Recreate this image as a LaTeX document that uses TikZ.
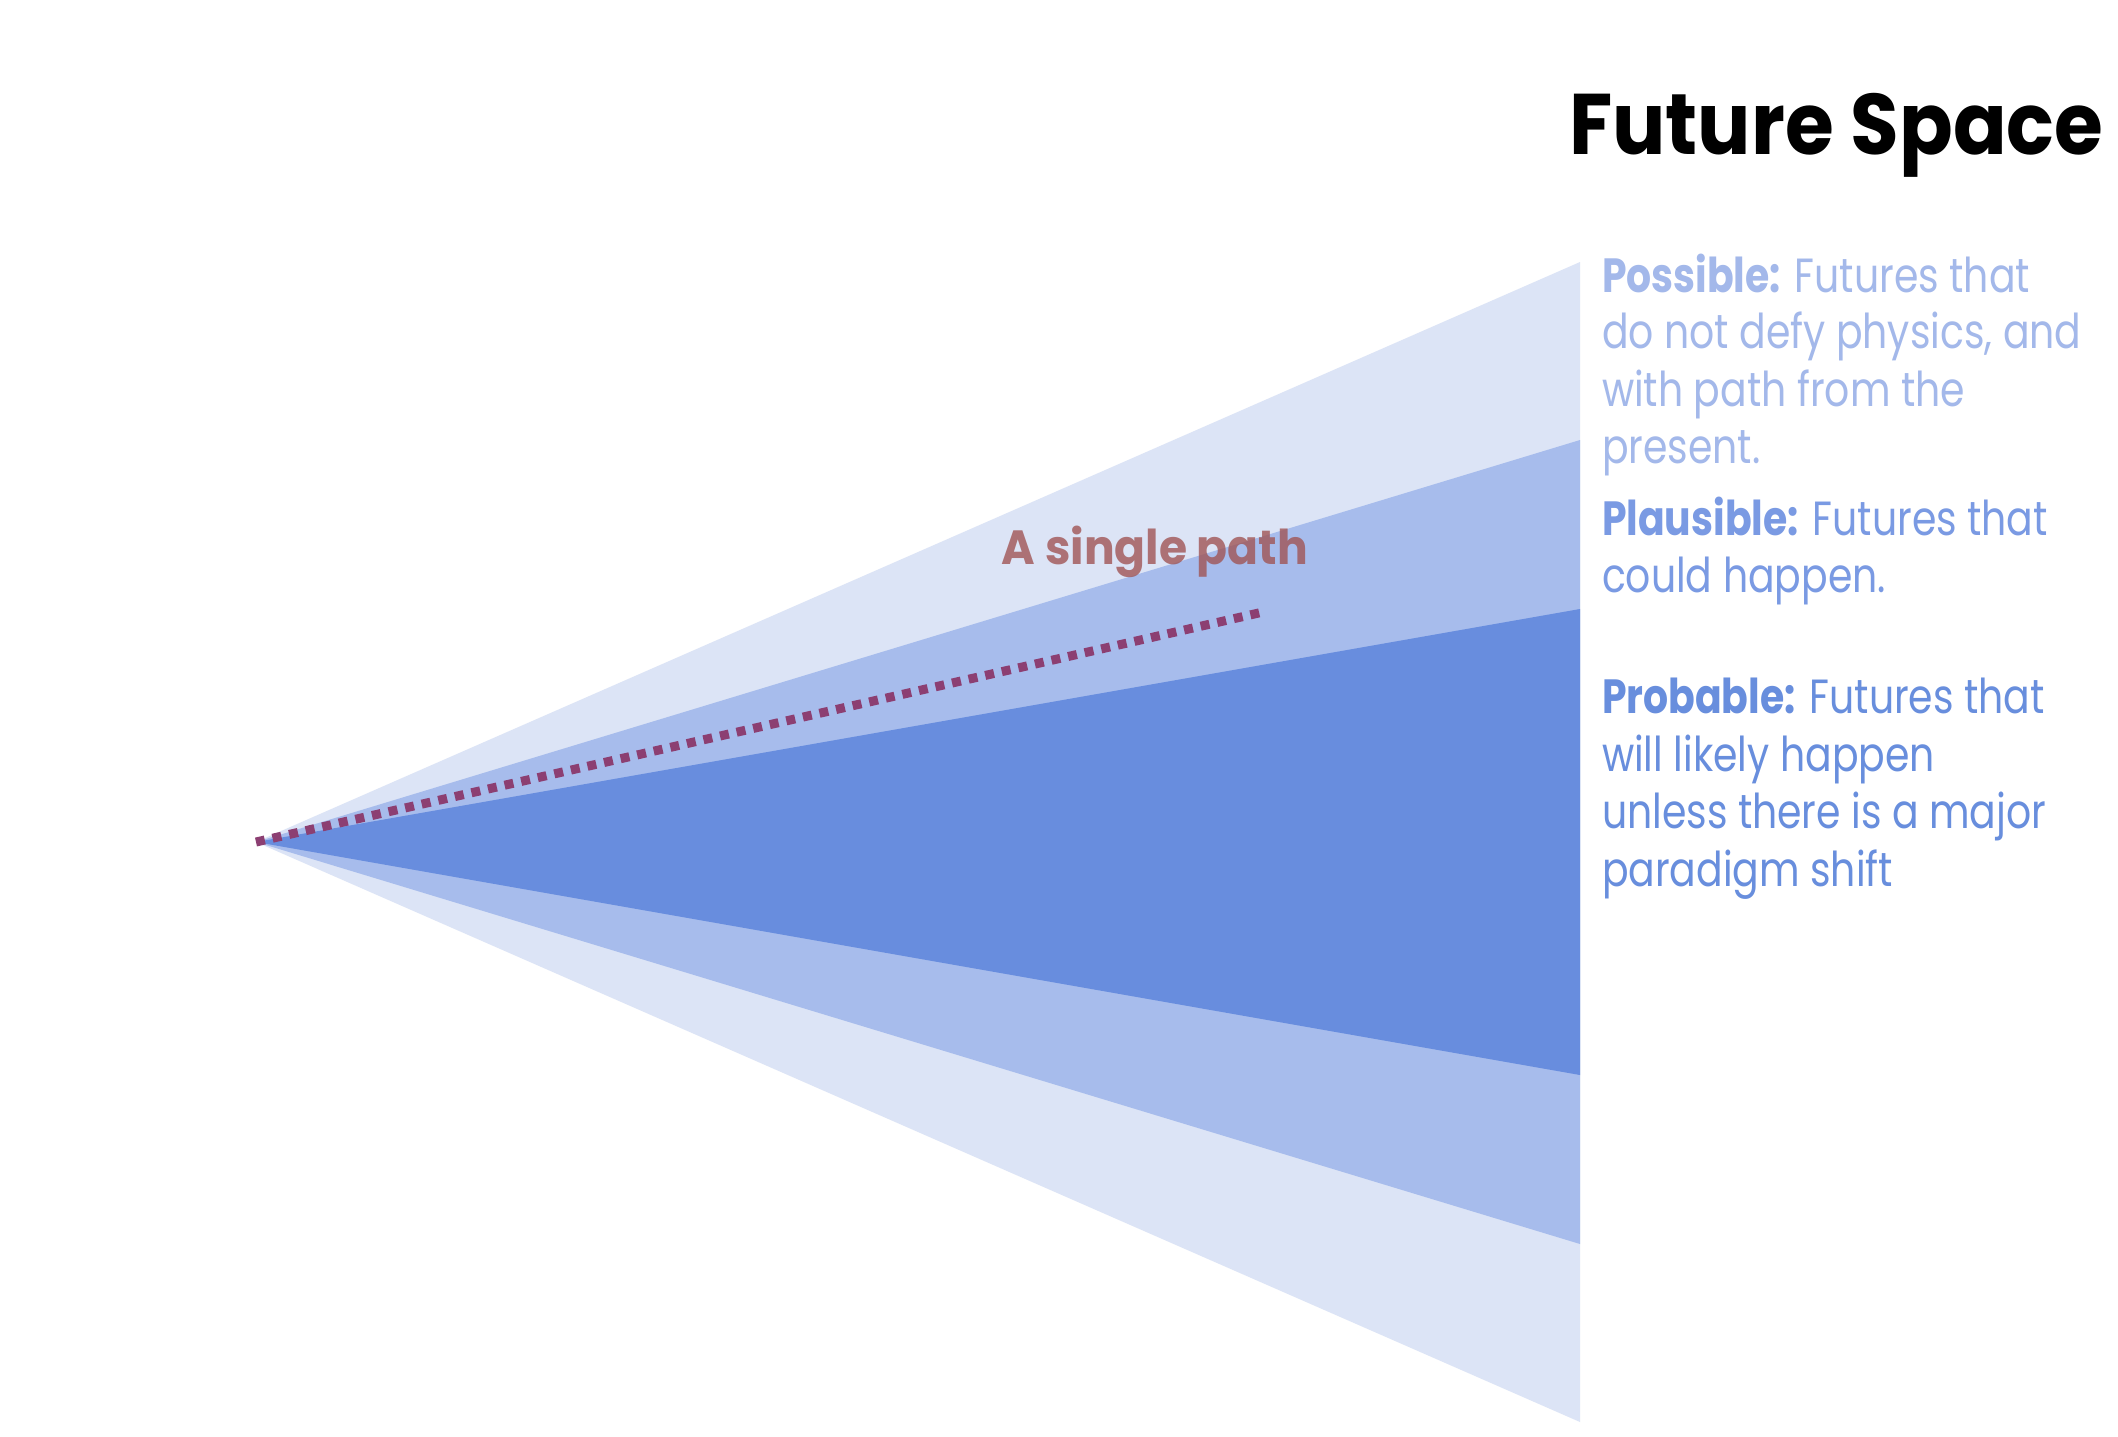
\documentclass[tikz,border=0pt]{standalone}
\usepackage{fontspec}
\setmainfont{Poppins}
\newfontfamily\titlefont[FakeStretch=0.92]{Poppins}
\newfontfamily\bodyfont[FakeStretch=0.82]{Poppins}
\newfontfamily\labelfont[FakeStretch=0.95]{Poppins}
\definecolor{possband}{HTML}{DCE4F6}
\definecolor{plauband}{HTML}{A7BCEC}
\definecolor{probband}{HTML}{688DDE}
\definecolor{posstext}{HTML}{A3B8EA}
\definecolor{plautext}{HTML}{7A9AE3}
\definecolor{probtext}{HTML}{688EDD}
\definecolor{pathcol}{HTML}{8C3F72}
\definecolor{labelcol}{HTML}{A05555}
\tikzset{
  line/.style={inner sep=0pt, outer sep=0pt, anchor=base west, font=\bodyfont\fontsize{48}{57}\selectfont},
}
\begin{document}
\begin{tikzpicture}[x=1pt,y=-1pt]
\fill[white] (0,0) rectangle (2118,1436);
\useasboundingbox (0,0) rectangle (2118,1436);
\coordinate (apex) at (256,842);
\coordinate (pathend) at (1263,612);
% bands
\fill[possband] (apex) -- (1580,262) -- (1580,1422) -- cycle;
\fill[plauband] (apex) -- (1580,440) -- (1580,1244) -- cycle;
\fill[probband] (apex) -- (1580,609) -- (1580,1075) -- cycle;
% label
\node[inner sep=0pt, anchor=base, text=labelcol, opacity=0.8, font=\labelfont\bfseries\fontsize{48}{57}\selectfont] (single) at (1155,564) {A single path};
% dotted path
\draw[pathcol, line width=9pt, dash pattern=on 9pt off 8pt] (apex) -- (pathend);
% title
\node[inner sep=0pt, anchor=base west, font=\titlefont\bfseries\fontsize{86}{96}\selectfont] (title) at (1569,154) {Future Space};
% possible
\node[line, text=posstext] (p1) at (1602,292) {\textbf{Possible:} Futures that};
\node[line, text=posstext] (p2) at (1602,348) {do not defy physics, and};
\node[line, text=posstext] (p3) at (1602,406) {with path from the};
\node[line, text=posstext] (p4) at (1602,463) {present.};
% plausible
\node[line, text=plautext] (q1) at (1602,535) {\textbf{Plausible:} Futures that};
\node[line, text=plautext] (q2) at (1602,592) {could happen.};
% probable
\node[line, text=probtext] (r1) at (1602,713) {\textbf{Probable:} Futures that};
\node[line, text=probtext] (r2) at (1602,771) {will likely happen};
\node[line, text=probtext] (r3) at (1602,828) {unless there is a major};
\node[line, text=probtext] (r4) at (1602,886) {paradigm shift};
\end{tikzpicture}
\end{document}
